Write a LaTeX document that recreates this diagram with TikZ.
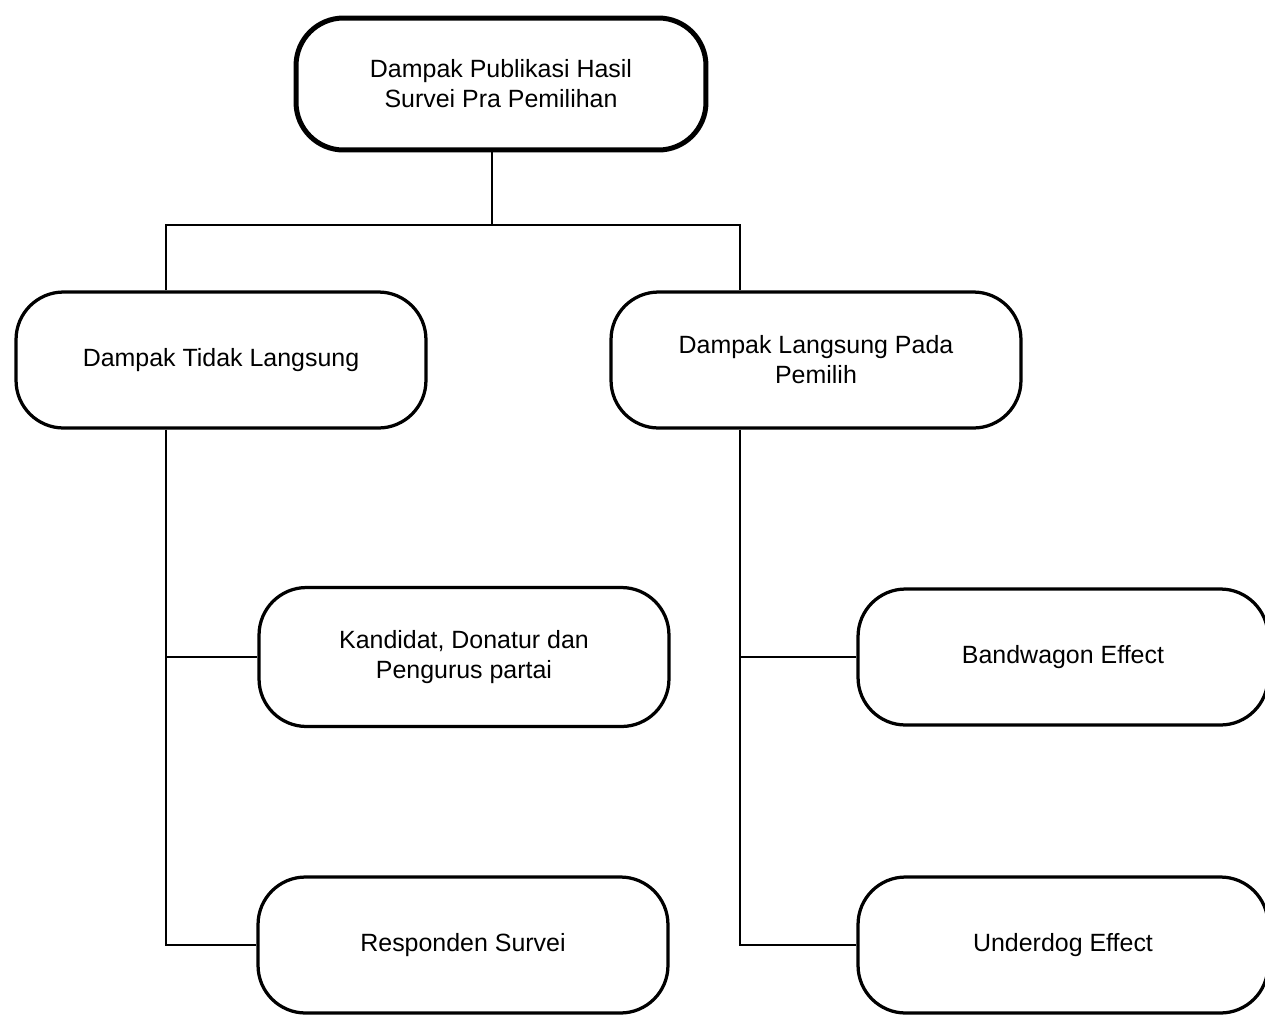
\documentclass[tikz,border=0pt]{standalone}
\usepackage{fontspec}
\setmainfont{Liberation Sans}
\begin{document}
\begin{tikzpicture}[x=0.02cm,y=-0.02cm,
    kotak/.style={draw,line width=0.065cm,rounded corners=0.95cm,minimum width=8.2cm,minimum height=2.72cm,inner sep=0pt,align=center,font=\fontsize{14.2}{17}\selectfont},
    garis/.style={line width=0.025cm}]
  \useasboundingbox (0,0) rectangle (1265,1015);
  {
  % Marking box Dampak Publikasi
  \node [kotak, line width=0.1cm, minimum height=2.64cm] (publikasi) at (501,84) {Dampak Publikasi Hasil\\Survei Pra Pemilihan};%

  % Marking boxes of the second row
  \node [kotak] (tidak) at (221,360) {Dampak Tidak Langsung};%
  \node [kotak] (langsung) at (816,360) {Dampak Langsung Pada\\Pemilih};%

  % Marking boxes under Dampak Tidak Langsung
  \node [kotak, minimum height=2.78cm] (kandidat) at (464,657) {Kandidat, Donatur dan\\Pengurus partai};%
  \node [kotak] (responden) at (463,945) {Responden Survei};%

  % Marking boxes under Dampak Langsung
  \node [kotak] (bandwagon) at (1063,657) {Bandwagon Effect};%
  \node [kotak] (underdog) at (1063,945) {Underdog Effect};%

  % Branch points
  \coordinate (cabang) at (492,225);%
  \coordinate (kiri) at (166,225);%
  \coordinate (kanan) at (740,225);%

  % Drawing top branch
  \draw [garis] (publikasi.south -| cabang) -- (cabang);%
  \draw [garis] (kiri |- tidak.north) -- (kiri) -- (kanan) -- (kanan |- langsung.north);%

  % Drawing left spine
  \draw [garis] (kiri |- tidak.south) |- (responden.west);%
  \draw [garis] (kiri |- kandidat.west) -- (kandidat.west);%

  % Drawing right spine
  \draw [garis] (kanan |- langsung.south) |- (underdog.west);%
  \draw [garis] (kanan |- bandwagon.west) -- (bandwagon.west);%
  }
\end{tikzpicture}
\end{document}
